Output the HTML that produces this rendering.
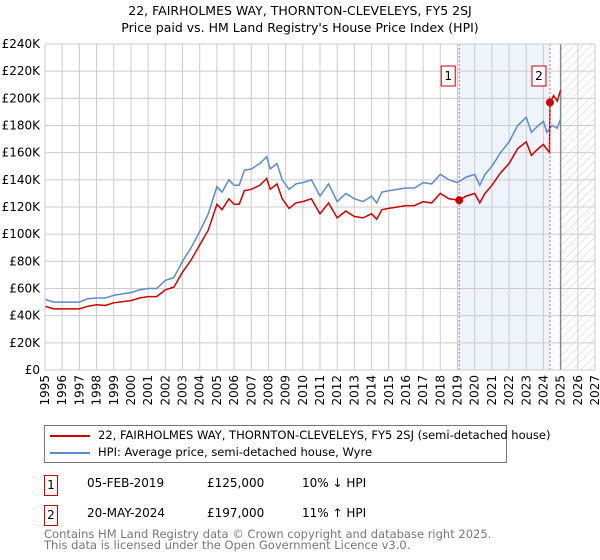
<!DOCTYPE html>
<html><head><meta charset="utf-8"><style>
body{margin:0;background:#fff;font-family:"DejaVu Sans","Liberation Sans",sans-serif;}
#wrap{position:relative;width:600px;height:560px;overflow:hidden}
.t{position:absolute;font-size:12px;color:#000;white-space:nowrap}
.box{position:absolute;border:1px solid #c00;width:12px;height:19px;font-size:12px;text-align:center;line-height:19px}
</style></head><body><div id="wrap">
<div class="t" style="left:0;width:600px;text-align:center;top:3px;font-size:12.5px">22, FAIRHOLMES WAY, THORNTON-CLEVELEYS, FY5 2SJ</div>
<div class="t" style="left:0;width:600px;text-align:center;top:20px;font-size:12.5px">Price paid vs. HM Land Registry's House Price Index (HPI)</div>
<svg id="chart" width="600" height="420" style="position:absolute;left:0;top:0"></svg>
<div style="position:absolute;left:44px;top:425px;width:461px;height:36px;border:1px solid #777">
<div style="position:absolute;left:5px;top:9px;width:40px;height:2px;background:#c00"></div>
<div class="t" style="left:53px;top:2px;font-size:11.5px">22, FAIRHOLMES WAY, THORNTON-CLEVELEYS, FY5 2SJ (semi-detached house)</div>
<div style="position:absolute;left:5px;top:26px;width:40px;height:2px;background:#5b8bd0"></div>
<div class="t" style="left:53px;top:19px;font-size:11.5px">HPI: Average price, semi-detached house, Wyre</div>
</div>
<div class="box" style="left:44px;top:475px">1</div>
<div class="t" style="left:87px;top:476px">05-FEB-2019</div>
<div class="t" style="left:207px;top:476px">£125,000</div>
<div class="t" style="left:302px;top:476px">10% ↓ HPI</div>
<div class="box" style="left:44px;top:505px">2</div>
<div class="t" style="left:87px;top:506px">20-MAY-2024</div>
<div class="t" style="left:207px;top:506px">£197,000</div>
<div class="t" style="left:302px;top:506px">11% ↑ HPI</div>
<div class="t" style="left:44px;top:529px;font-size:11.5px;color:#777;line-height:11px">Contains HM Land Registry data © Crown copyright and database right 2025.<br>This data is licensed under the Open Government Licence v3.0.</div>
</div>
<script>
const yTicks=[0,20,40,60,80,100,120,140,160,180,200,220,240];
const xYears=[1995,1996,1997,1998,1999,2000,2001,2002,2003,2004,2005,2006,2007,2008,2009,2010,2011,2012,2013,2014,2015,2016,2017,2018,2019,2020,2021,2022,2023,2024,2025,2026,2027];
const hpiT=[1995,1995.5,1996,1997,1997.5,1998,1998.5,1999,2000,2000.5,2001,2001.5,2002,2002.5,2003,2003.5,2004,2004.5,2005,2005.3,2005.7,2006,2006.3,2006.6,2007,2007.5,2007.9,2008.1,2008.5,2008.8,2009.2,2009.6,2010,2010.5,2011,2011.5,2012,2012.5,2013,2013.5,2014,2014.3,2014.6,2015,2016,2016.5,2017,2017.5,2018,2018.5,2019,2019.5,2020,2020.3,2020.6,2021,2021.5,2022,2022.5,2023,2023.3,2023.7,2024,2024.2,2024.5,2024.8,2025];
const hpiV=[52,50,50,50,52.5,53,53,55,57,59,60,60,66,68,80,90,102,115,135,131,140,136,136,147,148,152,157,148,152,140,133,137,138,140,128,137,124,130,126,124,128,123,131,132,134,134,138,137,144,140,138,142,144,136,144,150,160,168,180,186,175,180,183,175,180,178,185];
const propT=[1995,1995.5,1996,1997,1997.5,1998,1998.5,1999,2000,2000.5,2001,2001.5,2002,2002.5,2003,2003.5,2004,2004.5,2005,2005.3,2005.7,2006,2006.3,2006.6,2007,2007.5,2007.9,2008.1,2008.5,2008.8,2009.2,2009.6,2010,2010.5,2011,2011.5,2012,2012.5,2013,2013.5,2014,2014.3,2014.6,2015,2016,2016.5,2017,2017.5,2018,2018.5,2019.1,2019.5,2020,2020.3,2020.6,2021,2021.5,2022,2022.5,2023,2023.3,2023.7,2024,2024.35,2024.38,2024.6,2024.8,2025];
const propV=[47,45,45,45,47,48,47.5,49.5,51,53,54,54,59,61,72,81,92,103,122,118,126,122,122,132,133,136,141,133,137,126,119,123,124,126,115,123,112,117,113,112,115,111,118,119,121,121,124,123,130,126,125,128,130,123,130,136,145,152,163,168,158,163,166,160,197,202,198,206];
const sales=[{t:2019.1,v:125,l:"1"},{t:2024.38,v:197,l:"2"}];
const L=45,R=595,T=44,B=370,Y0=1995,Y1=2027;
const X=t=>L+(t-Y0)/(Y1-Y0)*(R-L), Y=v=>B-v/240*(B-T);
const s=document.getElementById('chart'),NS='http://www.w3.org/2000/svg';
function mk(tag,a,p){const e=document.createElementNS(NS,tag);for(const k in a)e.setAttribute(k,a[k]);(p||s).appendChild(e);return e;}
const defs=mk('defs',{});
const pat=mk('pattern',{id:'hatch',width:6,height:6,patternUnits:'userSpaceOnUse',patternTransform:'rotate(45)'},defs);
mk('line',{x1:0,y1:0,x2:0,y2:6,stroke:'#ccc','stroke-width':1},pat);
let e=mk('rect',{x:X(sales[0].t),y:T,width:X(sales[1].t)-X(sales[0].t),height:B-T,fill:'#eef3fc'});

e=mk('rect',{x:X(2025),y:T,width:R-X(2025),height:B-T,fill:'url(#hatch)'});

yTicks.forEach(v=>{
 e=mk('line',{x1:L,x2:R,y1:Y(v),y2:Y(v),stroke:'#ccc'});
 
 e=mk('text',{x:L-5,y:Y(v)+4,'text-anchor':'end','font-size':12,'font-family':'DejaVu Sans,sans-serif'});e.textContent=v==0?'£0':'£'+v+'K';
 
});
xYears.forEach(y=>{
 e=mk('line',{x1:X(y),x2:X(y),y1:T,y2:B,stroke:'#ccc'});
 
 e=mk('text',{x:0,y:0,'font-size':12,'font-family':'DejaVu Sans,sans-serif','text-anchor':'end',transform:`translate(${X(y)+4},${B+5}) rotate(-90)`});e.textContent=y;
 
});
e=mk('line',{x1:X(2025),x2:X(2025),y1:T,y2:B,stroke:'#888','stroke-width':1.5});

function path(ts,vs,col,name){const d=ts.map((t,i)=>(i?'L':'M')+X(t).toFixed(1)+','+Y(vs[i]).toFixed(1)).join('');
 const p=mk('path',{d:d,fill:'none',stroke:col,'stroke-width':1.5});
 }
path(hpiT,hpiV,'#5b8bd0','hpi-line');
path(propT,propV,'#cc0000','property-price-line');
sales.forEach(o=>{
 e=mk('line',{x1:X(o.t),x2:X(o.t),y1:T,y2:B,stroke:'#e66','stroke-dasharray':'2,2'});
 
 e=mk('circle',{cx:X(o.t),cy:Y(o.v),r:4,fill:'#cc0000'});
 
 e=mk('rect',{x:X(o.t)-18,y:66,width:14,height:20,fill:'#fff',stroke:'#c00'});
 
 e=mk('text',{x:X(o.t)-11,y:80,'text-anchor':'middle','font-size':12,'font-family':'DejaVu Sans,sans-serif'});e.textContent=o.l;
 
});
e=mk('rect',{x:L,y:T,width:R-L,height:B-T,fill:'none',stroke:'#ccc'});

</script></body></html>
